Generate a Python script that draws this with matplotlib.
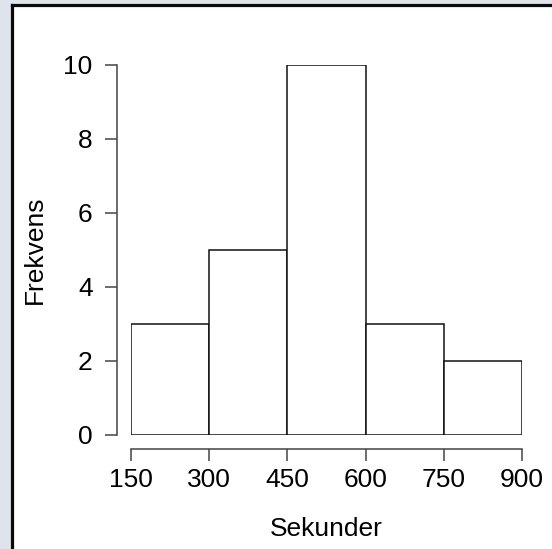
import numpy as np
import matplotlib.pyplot as plt
from matplotlib.patches import Rectangle
from matplotlib.lines import Line2D

plt.rcParams['font.family'] = ['Liberation Sans', 'DejaVu Sans']

# histogram data
edges = [150, 300, 450, 600, 750, 900]
counts = [3, 5, 10, 3, 2]
xticks = [150, 300, 450, 600, 750, 900]
yticks = [0, 2, 4, 6, 8, 10]

W, H = 552, 549
fig = plt.figure(figsize=(W / 100, H / 100), dpi=100)
fig.patch.set_facecolor('#dfe4ec')

# white panel with dark frame on left and top
fig.patches.append(Rectangle((11.5 / W, 0), 1, 1 - 4.5 / H, transform=fig.transFigure,
                             facecolor='white', edgecolor='none', zorder=-2))
fig.lines.append(Line2D([11.5 / W, 11.5 / W], [0, 1 - 4.5 / H], transform=fig.transFigure,
                        color='#0a0a0a', lw=2.3, zorder=-1, solid_capstyle='projecting'))
fig.lines.append(Line2D([11.5 / W, 1], [1 - 4.5 / H, 1 - 4.5 / H], transform=fig.transFigure,
                        color='#0a0a0a', lw=2.3, zorder=-1, solid_capstyle='projecting'))

# axes placed so data area is x 131..522 px, y 65..435 px
ax = fig.add_axes([131 / W, (H - 435) / H, (522 - 131) / W, (435 - 65) / H])
ax.set_facecolor('none')
ax.set_zorder(2)

w = np.diff(edges)
ax.bar(edges[:-1], counts, width=w, align='edge', color='white',
       edgecolor='#111111', linewidth=1.1)

ax.set_xlim(edges[0], edges[-1])
ax.set_ylim(0, 10)
ax.set_xticks(xticks)
ax.set_yticks(yticks)

for s in ['top', 'right']:
    ax.spines[s].set_visible(False)
ax.spines['left'].set_position(('outward', 10))
ax.spines['bottom'].set_position(('outward', 10))
ax.spines['left'].set_bounds(0, 10)
ax.spines['bottom'].set_bounds(150, 900)
for s in ['left', 'bottom']:
    ax.spines[s].set_color('#444444')
    ax.spines[s].set_linewidth(1.1)

ax.tick_params(axis='both', length=8.6, width=1.1, color='#444444',
               labelsize=19, labelcolor='black')
ax.tick_params(axis='y', pad=9)
ax.tick_params(axis='x', pad=5)

ax.set_xlabel('Sekunder', fontsize=19, labelpad=18)
ax.set_ylabel('Frekvens', fontsize=19, labelpad=12)

fig.savefig('out.png', dpi=100, facecolor=fig.get_facecolor())
